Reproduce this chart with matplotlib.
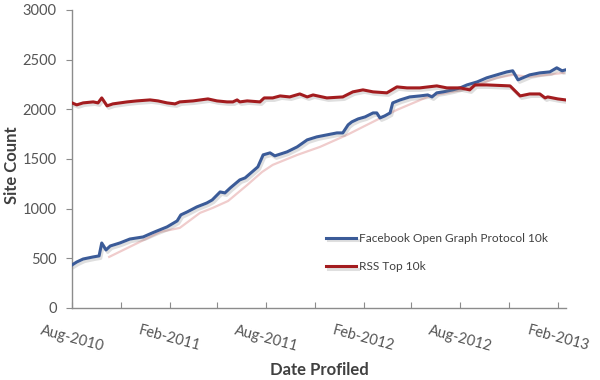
import numpy as np
import pandas as pd
import matplotlib
matplotlib.use('Agg')
import matplotlib.pyplot as plt
import matplotlib.patheffects as pe
import matplotlib.transforms as mtransforms

# DATA
fb_dates = ['2010-08-01', '2010-08-10', '2010-08-22', '2010-09-10', '2010-09-21', '2010-09-26',
            '2010-10-04', '2010-10-12', '2010-10-30', '2010-11-18', '2010-12-13', '2010-12-30',
            '2011-01-08', '2011-01-27', '2011-02-15', '2011-02-22', '2011-03-06', '2011-03-24',
            '2011-04-12', '2011-04-22', '2011-05-07', '2011-05-16', '2011-05-26', '2011-06-13',
            '2011-06-23', '2011-07-06', '2011-07-17', '2011-07-27', '2011-08-09', '2011-08-18',
            '2011-09-10', '2011-09-29', '2011-10-18', '2011-11-05', '2011-11-24', '2011-12-13',
            '2011-12-24', '2012-01-03', '2012-01-10', '2012-01-22', '2012-02-04', '2012-02-19',
            '2012-02-26', '2012-03-03', '2012-03-12', '2012-03-22', '2012-03-27', '2012-04-10',
            '2012-04-28', '2012-05-17', '2012-06-01', '2012-06-09', '2012-06-18', '2012-06-30',
            '2012-07-18', '2012-08-01', '2012-08-14', '2012-09-02', '2012-09-20', '2012-10-09',
            '2012-10-28', '2012-11-08', '2012-11-18', '2012-11-27', '2012-12-10', '2012-12-29',
            '2013-01-17', '2013-01-30', '2013-02-09', '2013-02-16']
fb_counts = [433, 463, 493, 514, 524, 654,
             584, 624, 654, 694, 715, 755,
             775, 816, 876, 937, 967, 1017,
             1057, 1087, 1168, 1158, 1208, 1289,
             1309, 1369, 1420, 1541, 1561, 1531,
             1571, 1621, 1692, 1722, 1742, 1762,
             1762, 1843, 1873, 1903, 1923, 1963,
             1963, 1913, 1933, 1963, 2064, 2094,
             2124, 2134, 2144, 2124, 2165, 2175,
             2195, 2215, 2245, 2275, 2316, 2346,
             2376, 2387, 2296, 2316, 2346, 2366,
             2376, 2417, 2387, 2397]

rss_dates = ['2010-08-01', '2010-08-10', '2010-08-22', '2010-09-10', '2010-09-19', '2010-09-26',
             '2010-10-06', '2010-10-17', '2010-11-13', '2010-12-01', '2010-12-26', '2011-01-10',
             '2011-01-27', '2011-02-11', '2011-02-20', '2011-03-17', '2011-04-14', '2011-05-01',
             '2011-05-20', '2011-05-31', '2011-06-08', '2011-06-13', '2011-06-27', '2011-07-21',
             '2011-07-29', '2011-08-14', '2011-08-28', '2011-09-15', '2011-10-04', '2011-10-18',
             '2011-10-29', '2011-11-24', '2011-12-24', '2012-01-12', '2012-01-31', '2012-02-19',
             '2012-03-16', '2012-04-04', '2012-04-23', '2012-05-17', '2012-06-18', '2012-07-07',
             '2012-08-01', '2012-08-19', '2012-08-29', '2012-09-20', '2012-11-03', '2012-11-22',
             '2012-12-10', '2012-12-29', '2013-01-08', '2013-01-13', '2013-02-01', '2013-02-14']
rss_counts = [2064, 2044, 2064, 2074, 2064, 2114,
              2034, 2054, 2074, 2084, 2094, 2084,
              2064, 2054, 2074, 2084, 2104, 2084,
              2074, 2074, 2094, 2074, 2084, 2074,
              2114, 2114, 2134, 2124, 2154, 2124,
              2144, 2114, 2124, 2175, 2195, 2175,
              2165, 2225, 2215, 2215, 2235, 2215,
              2215, 2195, 2245, 2245, 2235, 2134,
              2154, 2154, 2114, 2124, 2104, 2095]

trend_dates = ['2010-10-10', '2011-01-14', '2011-02-20', '2011-03-30', '2011-04-23', '2011-05-22',
               '2011-06-27', '2011-07-25', '2011-08-14', '2011-09-29', '2011-11-11', '2012-01-01',
               '2012-01-31', '2012-04-04', '2012-06-05', '2012-08-06', '2012-10-09', '2012-11-08',
               '2012-12-10', '2013-02-12']
trend_counts = [514, 765, 806, 957, 1007, 1077,
                1238, 1369, 1440, 1540, 1621, 1742,
                1823, 1994, 2134, 2195, 2316, 2346,
                2326, 2366]

tick_dates = ['2010-08-01', '2010-11-01', '2011-02-01', '2011-05-01', '2011-08-01', '2011-11-01',
              '2012-02-01', '2012-05-01', '2012-08-01', '2012-11-01', '2013-02-01']
tick_labels = ['Aug-2010', '', 'Feb-2011', '', 'Aug-2011', '',
               'Feb-2012', '', 'Aug-2012', '', 'Feb-2013']

# PLOTTING
plt.rcParams['font.family'] = ['Lato', 'DejaVu Sans']

fig = plt.figure(figsize=(6, 3.8), dpi=100)
ax = fig.add_axes([0.12, 0.1895, 0.823, 0.7845])

shadow = [pe.SimpleLineShadow(offset=(1.2, -1.8), shadow_color='#808080', alpha=0.25), pe.Normal()]

ax.plot(pd.to_datetime(trend_dates), trend_counts, color='#f0cccc', lw=1.6,
        label='_nolegend_', zorder=2)
ax.plot(pd.to_datetime(fb_dates), fb_counts, color='#3b5b98', lw=2.2,
        label='Facebook Open Graph Protocol 10k', path_effects=shadow, zorder=3,
        solid_joinstyle='round')
ax.plot(pd.to_datetime(rss_dates), rss_counts, color='#a31c1f', lw=2.2,
        label='RSS Top 10k', path_effects=shadow, zorder=3, solid_joinstyle='round')

ax.set_ylim(0, 3000)
ax.set_yticks(np.arange(0, 3001, 500))
ax.set_xlim(pd.Timestamp('2010-08-01'), pd.Timestamp('2013-02-16'))
ax.set_xticks(pd.to_datetime(tick_dates))
ax.set_xticklabels(tick_labels, rotation=-15, ha='center', fontsize=10.5, color='#555555')

offset = mtransforms.ScaledTranslation(13 / 100, 0, fig.dpi_scale_trans)
for lbl in ax.get_xticklabels():
    lbl.set_transform(lbl.get_transform() + offset)

for s in ['top', 'right']:
    ax.spines[s].set_visible(False)
for s in ['left', 'bottom']:
    ax.spines[s].set_color('#8c8c8c')
    ax.spines[s].set_linewidth(1.0)

ax.tick_params(axis='y', direction='out', length=4, color='#8c8c8c', labelsize=10.5,
               labelcolor='#555555', pad=7)
ax.tick_params(axis='x', direction='in', length=4, color='#8c8c8c', pad=11)

ax.set_ylabel('Site Count', fontsize=12, fontweight='bold', color='#404040')
ax.yaxis.set_label_coords(-0.106, 0.48)
ax.set_xlabel('Date Profiled', fontsize=12, fontweight='bold', color='#404040', labelpad=6)

ax.legend(loc='upper left', bbox_to_anchor=(0.515, 0.252), frameon=False, fontsize=8.6,
          handlelength=2.5, handletextpad=0.2, labelspacing=1.45, borderpad=0,
          borderaxespad=0, labelcolor='#404040')

plt.savefig('out.png', dpi=100)
